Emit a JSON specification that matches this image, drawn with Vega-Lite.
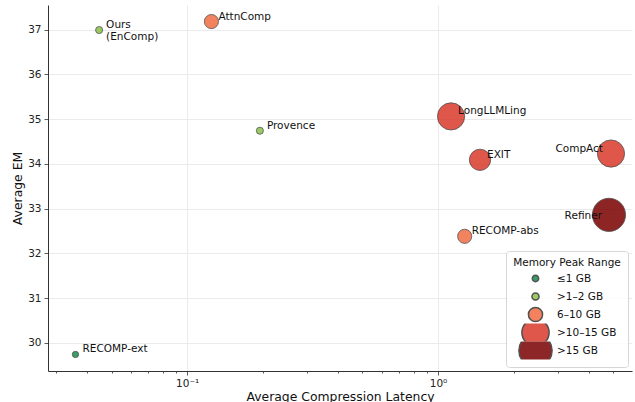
{
  "$schema": "https://vega.github.io/schema/vega-lite/v6.json",
  "width": 584,
  "height": 366,
  "autosize": "none",
  "padding": {"left": 48, "top": 5, "right": 3, "bottom": 31},
  "background": "white",
  "config": {
    "font": "DejaVu Sans",
    "view": {"stroke": null},
    "axis": {
      "domainColor": "#333333",
      "domainWidth": 1,
      "tickColor": "#333333",
      "tickWidth": 0.8,
      "gridColor": "#ebebeb",
      "gridWidth": 1,
      "labelColor": "#222222",
      "labelFontSize": 10.5,
      "titleColor": "#111111",
      "titleFontSize": 12.4,
      "titleFontWeight": "normal"
    },
    "legend": {
      "fillColor": "rgba(255,255,255,0.85)",
      "strokeColor": "#d6d6d6",
      "cornerRadius": 3,
      "padding": 7,
      "rowPadding": 0,
      "titleFontSize": 10.5,
      "titleFontWeight": "normal",
      "titleColor": "#111111",
      "labelFontSize": 10.5,
      "labelColor": "#111111"
    }
  },
  "data": {
    "values": [
      {"name": "RECOMP-ext", "latency": 0.0359, "em": 29.74, "range": "≤1 GB"},
      {"name": "Ours\n(EnComp)", "latency": 0.0446, "em": 36.99, "range": ">1–2 GB"},
      {"name": "Provence", "latency": 0.195, "em": 34.74, "range": ">1–2 GB"},
      {"name": "AttnComp", "latency": 0.125, "em": 37.18, "range": "6–10 GB"},
      {"name": "RECOMP-abs", "latency": 1.277, "em": 32.38, "range": "6–10 GB"},
      {"name": "EXIT", "latency": 1.47, "em": 34.09, "range": ">10–15 GB"},
      {"name": "LongLLMLing", "latency": 1.127, "em": 35.06, "range": ">10–15 GB"},
      {"name": "CompAct", "latency": 4.89, "em": 34.23, "range": ">10–15 GB"},
      {"name": "Refiner", "latency": 4.8, "em": 32.86, "range": ">15 GB"}
    ]
  },
  "encoding": {
    "x": {
      "field": "latency",
      "type": "quantitative",
      "scale": {"type": "log", "domain": [0.0279, 5.93], "nice": false},
      "axis": {
        "title": "Average Compression Latency",
        "values": [0.03, 0.04, 0.05, 0.06, 0.07, 0.08, 0.09, 0.1, 0.2, 0.3, 0.4, 0.5, 0.6, 0.7, 0.8, 0.9, 1, 2, 3, 4, 5],
        "labelExpr": "datum.value === 0.1 ? '10⁻¹' : (datum.value === 1 ? '10⁰' : '')",
        "labelOverlap": false,
        "labelFlush": false,
        "labelPadding": 3,
        "titlePadding": 2,
        "tickSize": {"condition": {"test": "datum.value === 0.1 || datum.value === 1", "value": 4}, "value": 2},
        "gridOpacity": {"condition": {"test": "datum.value === 0.1 || datum.value === 1", "value": 1}, "value": 0}
      }
    },
    "y": {
      "field": "em",
      "type": "quantitative",
      "scale": {"domain": [29.37, 37.55], "nice": false, "zero": false},
      "axis": {
        "title": "Average EM",
        "values": [30, 31, 32, 33, 34, 35, 36, 37],
        "tickSize": 4,
        "labelPadding": 3,
        "titlePadding": 3
      }
    }
  },
  "layer": [
    {
      "transform": [{"filter": "datum.name !== 'EXIT'"}],
      "mark": {"type": "circle", "opacity": 0.85, "stroke": "#333333", "strokeWidth": 0.8},
      "encoding": {
        "color": {
          "field": "range",
          "type": "nominal",
          "scale": {
            "domain": ["≤1 GB", ">1–2 GB", "6–10 GB", ">10–15 GB", ">15 GB"],
            "range": ["#178d4b", "#8bc34b", "#f26d43", "#da392c", "#7a0000"]
          },
          "legend": {
            "title": "Memory Peak Range",
            "orient": "bottom-right",
            "offset": 4,
            "symbolOpacity": 0.85,
            "clipHeight": 18,
            "titleAnchor": "middle",
            "titlePadding": 1,
            "labelOffset": 4,
            "encode": {
              "symbols": {"update": {"stroke": {"value": "#333333"}, "strokeWidth": {"value": 0.8}, "opacity": {"value": 0.85}}}
            }
          }
        },
        "size": {
          "field": "range",
          "type": "nominal",
          "scale": {
            "type": "ordinal",
            "domain": ["≤1 GB", ">1–2 GB", "6–10 GB", ">10–15 GB", ">15 GB"],
            "range": [40, 50, 200, 740, 1100]
          },
          "legend": {
            "title": "Memory Peak Range",
            "orient": "bottom-right",
            "offset": 4,
            "symbolOpacity": 0.85,
            "clipHeight": 18,
            "titleAnchor": "middle",
            "titlePadding": 1,
            "labelOffset": 4,
            "encode": {
              "symbols": {"update": {"stroke": {"value": "#333333"}, "strokeWidth": {"value": 0.8}, "opacity": {"value": 0.85}}}
            }
          }
        }
      }
    },
    {
      "transform": [{"filter": "datum.name === 'EXIT'"}],
      "mark": {"type": "circle", "opacity": 0.85, "stroke": "#333333", "strokeWidth": 0.8, "size": 452},
      "encoding": {
        "color": {"field": "range", "type": "nominal", "legend": null}
      }
    },
    {
      "transform": [{"filter": "datum.name !== 'CompAct' && datum.name !== 'Refiner'"}],
      "mark": {"type": "text", "align": "left", "baseline": "middle", "dx": 7, "dy": -5, "fontSize": 10.5, "color": "#111111", "lineBreak": "\n", "lineHeight": 12},
      "encoding": {"text": {"field": "name", "type": "nominal"}}
    },
    {
      "transform": [{"filter": "datum.name === 'CompAct'"}],
      "mark": {"type": "text", "align": "right", "baseline": "middle", "dx": -8, "dy": -5, "fontSize": 10.5, "color": "#111111"},
      "encoding": {"text": {"field": "name", "type": "nominal"}}
    },
    {
      "transform": [{"filter": "datum.name === 'Refiner'"}],
      "mark": {"type": "text", "align": "right", "baseline": "middle", "dx": -7, "dy": 1, "fontSize": 10.5, "color": "#111111"},
      "encoding": {"text": {"field": "name", "type": "nominal"}}
    }
  ]
}
